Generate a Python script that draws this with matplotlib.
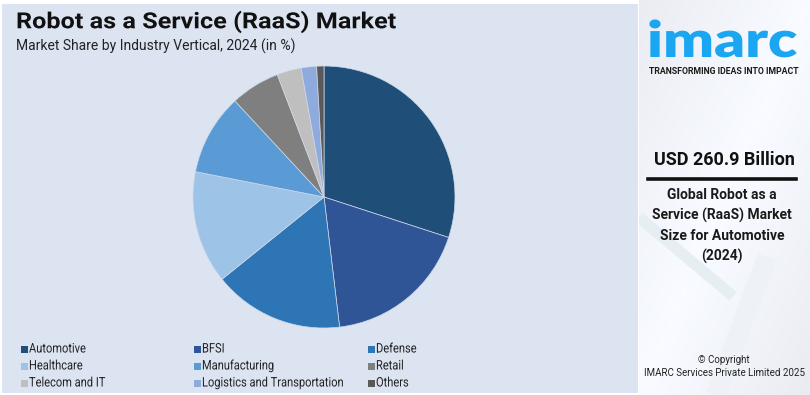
import matplotlib
matplotlib.use("Agg")
import matplotlib.pyplot as plt
from matplotlib.patches import Rectangle
from matplotlib.patheffects import AbstractPathEffect
from matplotlib.transforms import Affine2D
import numpy as np

# ---------------- data ----------------
categories = ["Automotive", "BFSI", "Defense", "Healthcare", "Manufacturing",
              "Retail", "Telecom and IT", "Logistics and Transportation", "Others"]
shares = [30.0, 18.1, 16.1, 13.9, 10.0, 6.1, 3.0, 1.9, 0.9]
colors = ["#1f4e79", "#2f5597", "#2e75b6", "#9dc3e6", "#5b9bd5",
          "#7f7f7f", "#bfbfbf", "#8faadc", "#595959"]

title = "Robot as a Service (RaaS) Market"
subtitle = "Market Share by Industry Vertical, 2024 (in %)"
kpi_value = "USD 260.9 Billion"
kpi_text = "Global Robot as a\nService (RaaS) Market\nSize for Automotive\n(2024)"

W, H = 810, 395
fig = plt.figure(figsize=(W / 100, H / 100), dpi=100)
fig.patch.set_facecolor("white")


def fx(px):
    return px / W


def fy(py):
    return 1 - py / H


class Stretch(AbstractPathEffect):
    """Horizontally stretch text glyphs about the text origin."""
    def __init__(self, sx=1.0):
        super().__init__()
        self.sx = sx

    def draw_path(self, renderer, gc, tpath, affine, rgbFace=None):
        x0 = affine.transform((0, 0))[0]
        a2 = affine + Affine2D().translate(-x0, 0).scale(self.sx, 1).translate(x0, 0)
        renderer.draw_path(gc, tpath, a2, rgbFace)


# ---------------- backgrounds ----------------
bg = "#dce4f1"
fig.add_artist(Rectangle((fx(2), fy(393)), fx(636), (391 - 2) / H,
                         transform=fig.transFigure, facecolor=bg, edgecolor="none", zorder=0))
# right panel with soft gradient
axr = fig.add_axes([fx(639), 0, fx(W - 639), 1], zorder=0)
grad = np.linspace(0, 1, 200)
gx, gy = np.meshgrid(np.linspace(0, 1, 100), grad)
img = 0.93 + 0.06 * (1 - np.abs(gx - gy))
axr.imshow(np.dstack([img * 0.985, img * 0.995, np.minimum(img * 1.02, 1)]),
           extent=[0, 1, 0, 1], aspect="auto", origin="lower")
axr.plot([0.0, 0.55], [0.45, 0.25], color="#e6edf3", lw=8, solid_capstyle="butt")
axr.plot([0.45, 0.75], [0.0, 0.35], color="#eef2f6", lw=14, solid_capstyle="butt")
axr.set_xlim(0, 1)
axr.set_ylim(0, 1)
axr.axis("off")

# ---------------- titles ----------------
fig.text(fx(16), fy(22), title, fontsize=16, fontweight="bold", family="Roboto",
         color="#111111", ha="left", va="center", path_effects=[Stretch(1.135)])
fig.text(fx(16), fy(46), subtitle, fontsize=10, family="Roboto",
         color="#222222", ha="left", va="center")

# ---------------- pie ----------------
cx, cy, r = 324, 197, 131
ax = fig.add_axes([fx(cx - r), fy(cy + r), 2 * r / W, 2 * r / H])
ax.pie(shares, colors=colors, startangle=90, counterclock=False,
       wedgeprops=dict(edgecolor="#cfd9e8", linewidth=0.5))
ax.set_xlim(-1, 1)
ax.set_ylim(-1, 1)
ax.set_aspect("auto")
ax.axis("off")

# ---------------- legend ----------------
col_x = [21, 194, 368]
row_y = [349, 366, 383]
for i, (cat, col) in enumerate(zip(categories, colors)):
    c, rr = i % 3, i // 3
    x, y = col_x[c], row_y[rr]
    fig.add_artist(Rectangle((fx(x), fy(y + 3.5)), 7 / W, 7 / H,
                             transform=fig.transFigure, facecolor=col,
                             edgecolor="none"))
    fig.text(fx(x + 8), fy(y), cat, fontsize=9.5, family="Roboto", color="#222222",
             ha="left", va="center", path_effects=[Stretch(0.84)])

# ---------------- right panel ----------------
fig.text(fx(647), fy(57), "imarc", fontsize=36, fontweight="heavy", family="Lato",
         color="#1ba6f2", ha="left", va="baseline", path_effects=[Stretch(1.2)])
fig.text(fx(724), fy(72), "TRANSFORMING IDEAS INTO IMPACT", fontsize=6.3,
         fontweight="bold", family="Roboto", color="#1b1b1b", ha="center", va="center")

fig.text(fx(724), fy(160), kpi_value, fontsize=13, fontweight="bold",
         family="Roboto", color="#111111", ha="center", va="center")
fig.add_artist(plt.Line2D([fx(648), fx(796)], [fy(179), fy(179)],
                          transform=fig.transFigure, color="#111111", lw=2.6))
fig.text(fx(722), fy(226), kpi_text, fontsize=10, fontweight="bold",
         family="Roboto", color="#1a1a1a", ha="center", va="center", linespacing=1.5)

fig.text(fx(724), fy(360), "\u00a9 Copyright", fontsize=7, family="Roboto",
         color="#222222", ha="center", va="center")
fig.text(fx(724), fy(373), "IMARC Services Private Limited 2025", fontsize=7,
         family="Roboto", color="#222222", ha="center", va="center")

fig.savefig("out.png", dpi=100, facecolor=fig.get_facecolor())
